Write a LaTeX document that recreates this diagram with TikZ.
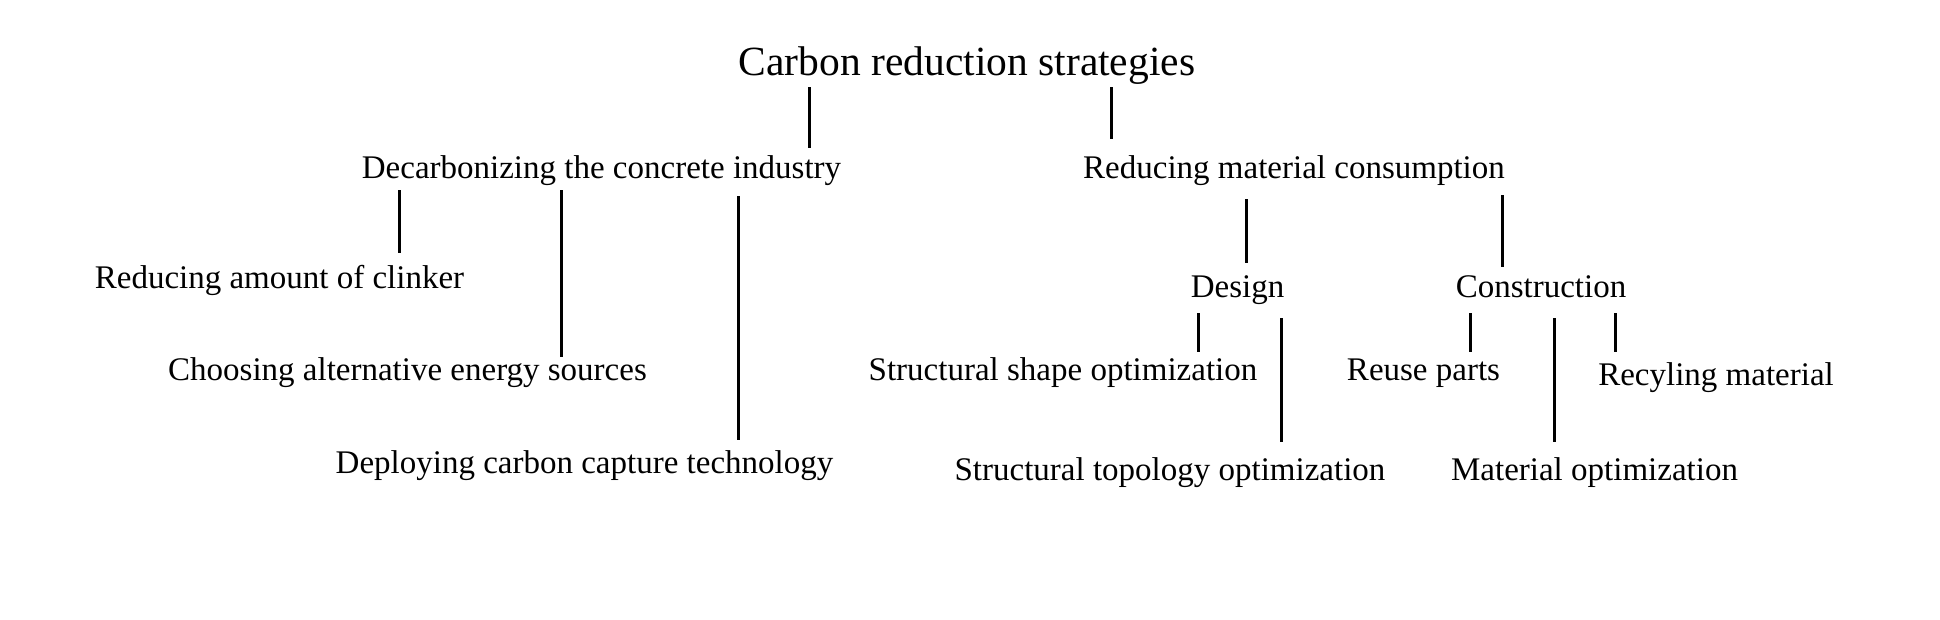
\documentclass[tikz,border=0pt]{standalone}
\usepackage{fontspec}
\setmainfont{Liberation Serif}
\usetikzlibrary{calc}
\begin{document}
\begin{tikzpicture}[x=1pt,y=-1pt,
  lbl/.style={anchor=base,inner sep=0pt,font=\fontsize{33}{40}\selectfont},
  ttl/.style={anchor=base,inner sep=0pt,font=\fontsize{41.5}{48}\selectfont},
  conn/.style={line width=3pt}]
\useasboundingbox (0,0) rectangle (1940,619);
\node[ttl] (title) at (967,75) {Carbon reduction strategies};
\node[lbl] (decarb) at (601.5,178) {Decarbonizing the concrete industry};
\node[lbl] (rmc) at (1294,178) {Reducing material consumption};
\node[lbl] (clinker) at (279.5,288) {Reducing amount of clinker};
\node[lbl] (choosing) at (407.5,380) {Choosing alternative energy sources};
\node[lbl] (deploying) at (584.5,473) {Deploying carbon capture technology};
\node[lbl] (design) at (1237.5,297) {Design};
\node[lbl] (constr) at (1541,297) {Construction};
\node[lbl] (shape) at (1063,380) {Structural shape optimization};
\node[lbl] (topo) at (1170,480) {Structural topology optimization};
\node[lbl] (reuse) at (1423.5,380) {Reuse parts};
\node[lbl] (recyl) at (1716,385) {Recyling material};
\node[lbl] (matopt) at (1594.5,480) {Material optimization};
% connectors
\draw[conn] ($(title.base -| 809,0)+(0,12)$) -- ($(decarb.base -| 809,0)+(0,-30)$);
\draw[conn] ($(title.base -| 1111,0)+(0,12)$) -- ($(rmc.base -| 1111,0)+(0,-39)$);
\draw[conn] ($(decarb.base -| 399,0)+(0,12)$) -- ($(clinker.base -| 399,0)+(0,-35)$);
\draw[conn] ($(decarb.base -| 561,0)+(0,12)$) -- ($(choosing.base -| 561,0)+(0,-23)$);
\draw[conn] ($(decarb.base -| 738,0)+(0,18)$) -- ($(deploying.base -| 738,0)+(0,-33)$);
\draw[conn] ($(rmc.base -| 1246,0)+(0,21)$) -- ($(design.base -| 1246,0)+(0,-34)$);
\draw[conn] ($(rmc.base -| 1502,0)+(0,17)$) -- ($(constr.base -| 1502,0)+(0,-30)$);
\draw[conn] ($(design.base -| 1198,0)+(0,16)$) -- ($(shape.base -| 1198,0)+(0,-28)$);
\draw[conn] ($(design.base -| 1281,0)+(0,21)$) -- ($(topo.base -| 1281,0)+(0,-38)$);
\draw[conn] ($(constr.base -| 1470,0)+(0,16)$) -- ($(reuse.base -| 1470,0)+(0,-28)$);
\draw[conn] ($(constr.base -| 1554,0)+(0,21)$) -- ($(matopt.base -| 1554,0)+(0,-38)$);
\draw[conn] ($(constr.base -| 1615,0)+(0,16)$) -- ($(recyl.base -| 1615,0)+(0,-33)$);
\end{tikzpicture}
\end{document}
